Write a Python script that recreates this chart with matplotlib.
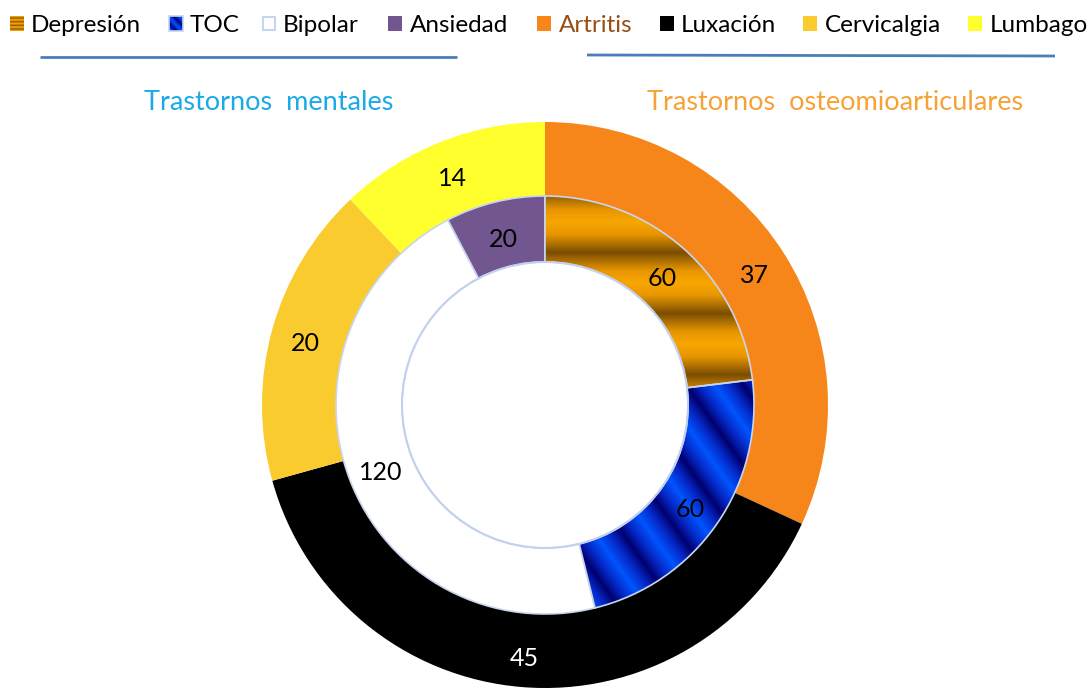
import numpy as np
import matplotlib
matplotlib.use('Agg')
import matplotlib.pyplot as plt
from matplotlib.patches import Rectangle

# ---- data ----
inner_labels = ['Depresión', 'TOC', 'Bipolar', 'Ansiedad']
inner_values = [60, 60, 120, 20]
outer_labels = ['Artritis', 'Luxación', 'Cervicalgia', 'Lumbago']
outer_values = [37, 45, 20, 14]
group_titles = ['Trastornos  mentales', 'Trastornos  osteomioarticulares']

plt.rcParams['font.family'] = ['Lato', 'DejaVu Sans']

W, H = 1091, 690
fig = plt.figure(figsize=(W / 100, H / 100), dpi=100)
ax = fig.add_axes([0, 0, 1, 1])

cx, cy = 545, H - 405
R_out, R_mid, R_in = 283, 209, 143

outer_colors = ['#F6861A', '#000000', '#F9CB2F', '#FFFF2E']
inner_colors = ['#C8860A', '#0030C0', '#FFFFFF', '#725690']
outer_label_colors = ['black', 'white', 'black', 'black']

wo, _ = ax.pie(outer_values, radius=R_out, center=(cx, cy), startangle=90,
               counterclock=False, colors=outer_colors, frame=True,
               wedgeprops=dict(width=R_out - R_mid, linewidth=0))
wi, _ = ax.pie(inner_values, radius=R_mid, center=(cx, cy), startangle=90,
               counterclock=False, colors=inner_colors, frame=True,
               wedgeprops=dict(width=R_mid - R_in, edgecolor='#C9D5EE', linewidth=1.2))


def ramp(t, stops):
    """piecewise-linear colour ramp; stops = list of (pos, (r,g,b))"""
    pos = np.array([s[0] for s in stops])
    cols = np.array([s[1] for s in stops], dtype=float) / 255.0
    out = np.empty(t.shape + (3,))
    for c in range(3):
        out[..., c] = np.interp(t, pos, cols[:, c])
    return out


gold_stops = [(0.0, (248, 166, 0)), (0.2, (232, 150, 0)), (0.5, (122, 78, 2)),
              (0.8, (232, 150, 0)), (1.0, (248, 166, 0))]
blue_stops = [(0.0, (0, 0, 110)), (0.22, (5, 38, 195)), (0.5, (0, 85, 255)),
              (0.78, (5, 38, 195)), (1.0, (0, 0, 110))]

x0, x1, y0, y1 = cx - R_mid, cx + R_mid, cy - R_mid, cy + R_mid
ys, xs = np.mgrid[y0:y1, x0:x1].astype(float) + 0.5
ys_screen = H - ys

# Depresión: horizontal gold / brown bands
t1 = np.mod((ys_screen - 222) / 61.0, 1.0)
img1 = ramp(t1, gold_stops)
im1 = ax.imshow(img1, extent=(x0, x1, y0, y1), origin='lower', zorder=1.5, interpolation='bilinear')
im1.set_clip_path(wi[0])

# TOC: diagonal blue bands
phase = (1.4 * xs + ys) / (1.72 * 46.0)
t2 = np.mod(phase, 1.0)
img2 = ramp(t2, blue_stops)
im2 = ax.imshow(img2, extent=(x0, x1, y0, y1), origin='lower', zorder=1.5, interpolation='bilinear')
im2.set_clip_path(wi[1])

for w in wi[:2]:
    w.set_facecolor('none')
    w.set_zorder(2)

# inner circle outline
circ = plt.Circle((cx, cy), R_in, fill=False, edgecolor='#C3D1EE', linewidth=1.5, zorder=3)
ax.add_patch(circ)


# value labels
def put_labels(wedges, values, r, colors):
    for w, v, c in zip(wedges, values, colors):
        ang = np.deg2rad((w.theta1 + w.theta2) / 2)
        ax.text(cx + r * np.cos(ang), cy + r * np.sin(ang) - 5, str(v), ha='center', va='center',
                fontsize=18, color=c, zorder=5)


put_labels(wi, inner_values, (R_mid + R_in) / 2, ['black'] * 4)
put_labels(wo, outer_values, (R_out + R_mid) / 2 + 3, outer_label_colors)

# group titles and lines
ax.text(269, H - 103, group_titles[0], ha='center', va='center', fontsize=19.5, color='#1BAAE6')
ax.text(835, H - 103, group_titles[1], ha='center', va='center', fontsize=19.5, color='#F7A237')
ax.plot([40, 457], [H - 57, H - 57], color='#4A7EBB', lw=2, solid_capstyle='butt')
ax.plot([587, 1055], [H - 55, H - 56], color='#4A7EBB', lw=2, solid_capstyle='butt')

# legend (manual)
legend_labels = inner_labels + outer_labels
marker_x = [10, 169, 262, 388, 537, 660, 803, 968]
text_x = [31, 190, 283, 410, 559, 681, 825, 990]
text_colors = ['black'] * 4 + ['#9A4D12', 'black', 'black', 'black']
mk_top, mk_h, mk_w = 16, 15, 14
for i, lab in enumerate(legend_labels):
    mx = marker_x[i]
    ybot = H - mk_top - mk_h
    if i == 0:
        yy = np.linspace(0, 1, 30)
        img = ramp(np.mod(yy * 4, 1.0)[:, None], gold_stops)
        ax.imshow(img, extent=(mx, mx + mk_w, ybot, ybot + mk_h), origin='lower', zorder=4)
    elif i == 1:
        g = np.linspace(0, 1, 30)
        gx, gy = np.meshgrid(g, g)
        img = ramp(np.mod((gx + gy) * 1.2 + 0.4, 1.0), blue_stops)
        ax.imshow(img, extent=(mx, mx + mk_w, ybot, ybot + mk_h), origin='lower', zorder=4)
        ax.add_patch(Rectangle((mx, ybot), mk_w, mk_h, fill=False, edgecolor='#C9D5EE', lw=1.2, zorder=5))
    elif i == 2:
        ax.add_patch(Rectangle((mx + 1, ybot + 1), mk_w - 2, mk_h - 2, facecolor='white',
                               edgecolor='#C9D5EE', lw=1.5, zorder=4))
    else:
        col = inner_colors[i] if i < 4 else outer_colors[i - 4]
        ax.add_patch(Rectangle((mx, ybot), mk_w, mk_h, facecolor=col, edgecolor='none', zorder=4))
    ax.text(text_x[i], H - 32, lab, ha='left', va='baseline', fontsize=17.5, color=text_colors[i])

ax.set_xlim(0, W)
ax.set_ylim(0, H)
ax.set_aspect('equal')
ax.axis('off')
fig.savefig('out.png', dpi=100)
